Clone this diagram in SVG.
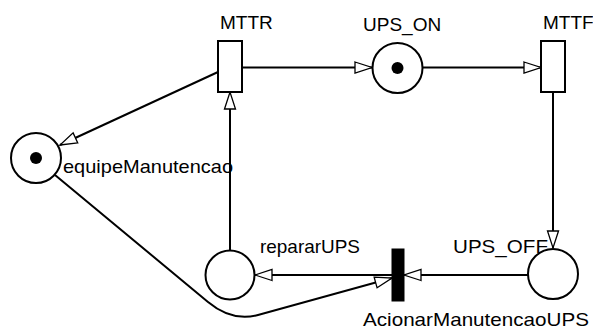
<svg xmlns="http://www.w3.org/2000/svg" width="593" height="331" viewBox="0 0 593 331">
<style>
.pl{fill:#fff;stroke:#000;stroke-width:2}
.tr{fill:#fff;stroke:#000;stroke-width:2}
.trb{fill:#000;stroke:#000;stroke-width:1}
.tk{fill:#000}
.arc{fill:none;stroke:#000;stroke-width:2;marker-end:url(#ah)}
text{font-family:"Liberation Sans",Arial,sans-serif;font-size:19px;fill:#000}
</style>
<defs>
<marker id="ah" markerUnits="userSpaceOnUse" markerWidth="20" markerHeight="14" refX="17" refY="6" orient="auto" overflow="visible">
<path d="M0,0.5 L17,6 L0,11.5 Z" fill="#fff" stroke="#000" stroke-width="1.3"/>
</marker>
</defs>
<g id="connectors">
<path class="arc" d="M242,67.5 L372,67.5"/>
<path class="arc" d="M423,67.5 L541,67.5"/>
<path class="arc" d="M553,92 L553,248"/>
<path class="arc" d="M528,275 L404,275"/>
<path class="arc" d="M392,275 L255,275"/>
<path class="arc" d="M230,250 L230,92"/>
<path class="arc" d="M218,72 L60,145"/>
<path class="arc" d="M55,175 L208,302 Q232,322 258,315 L392,278"/>
</g>
<g id="MTTR">
<rect class="tr" x="218" y="41" width="24" height="51"/>
<text x="220" y="29">MTTR</text>
</g>
<g id="UPS_ON">
<circle class="pl" cx="397.5" cy="68" r="25"/>
<circle class="tk" cx="397.5" cy="68" r="6"/>
<text x="363" y="31">UPS_ON</text>
</g>
<g id="MTTF">
<rect class="tr" x="541" y="41" width="24" height="51"/>
<text x="543" y="29">MTTF</text>
</g>
<g id="UPS_OFF">
<circle class="pl" cx="553" cy="274" r="25"/>
<text x="453" y="253" textLength="95" lengthAdjust="spacingAndGlyphs">UPS_OFF</text>
</g>
<g id="AcionarManutencaoUPS">
<rect class="trb" x="392" y="249" width="12" height="52"/>
<text x="363" y="326" textLength="226" lengthAdjust="spacingAndGlyphs">AcionarManutencaoUPS</text>
</g>
<g id="repararUPS">
<circle class="pl" cx="230" cy="275" r="24.5"/>
<text x="260" y="253" textLength="100" lengthAdjust="spacingAndGlyphs">repararUPS</text>
</g>
<g id="equipeManutencao">
<circle class="pl" cx="36" cy="158" r="25"/>
<circle class="tk" cx="36" cy="158" r="6"/>
<text x="63" y="173" textLength="170" lengthAdjust="spacingAndGlyphs">equipeManutencao</text>
</g>
</svg>
